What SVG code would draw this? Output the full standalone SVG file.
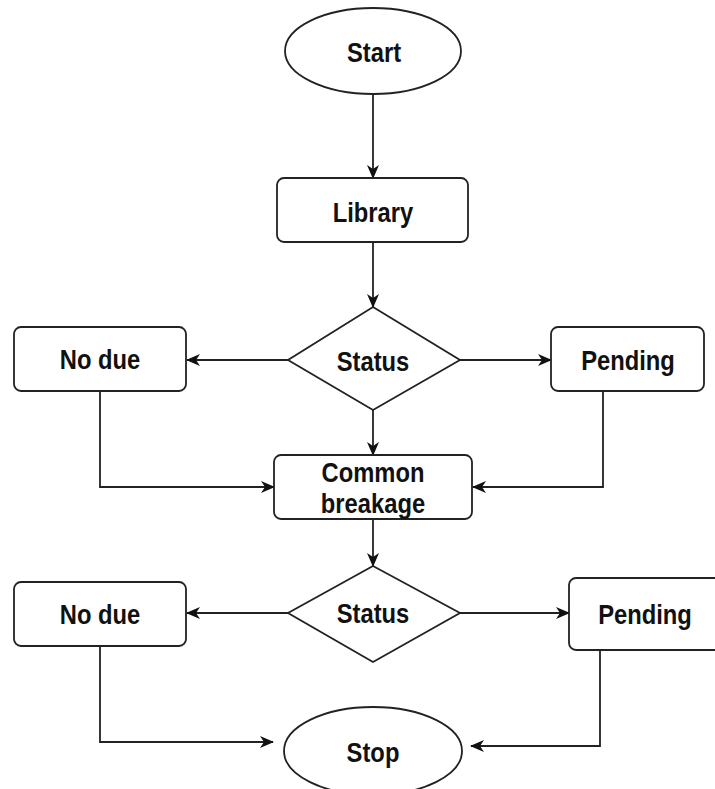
<svg xmlns="http://www.w3.org/2000/svg" width="715" height="789" viewBox="0 0 715 789">
<style>
.n{fill:#fff;stroke:#222;stroke-width:1.8}
.t{font-family:"Liberation Sans",Arial,sans-serif;font-weight:bold;font-size:27px;fill:#111;text-anchor:middle;dominant-baseline:central}
.c{fill:none;stroke:#222;stroke-width:1.8}
</style>
<defs>
<marker id="a" viewBox="0 0 14 12" refX="13" refY="6" markerWidth="14" markerHeight="12" markerUnits="userSpaceOnUse" orient="auto">
<path d="M0,0 L14,6 L0,12 L4,6 Z" fill="#111"/>
</marker>
</defs>
<rect width="715" height="789" fill="#fff"/>
<g id="connectors">
<path class="c" d="M373,95 V178" marker-end="url(#a)"/>
<path class="c" d="M373,242 V307" marker-end="url(#a)"/>
<path class="c" d="M288,360 H187" marker-end="url(#a)"/>
<path class="c" d="M460,360 H551" marker-end="url(#a)"/>
<path class="c" d="M373,410 V455" marker-end="url(#a)"/>
<path class="c" d="M100,391 V487 H274" marker-end="url(#a)"/>
<path class="c" d="M603,391 V487 H473" marker-end="url(#a)"/>
<path class="c" d="M373,519 V566" marker-end="url(#a)"/>
<path class="c" d="M288,613 H187" marker-end="url(#a)"/>
<path class="c" d="M460,613 H569" marker-end="url(#a)"/>
<path class="c" d="M100,646 V742 H273" marker-end="url(#a)"/>
<path class="c" d="M600,650 V746 H471" marker-end="url(#a)"/>
</g>
<g id="start"><ellipse class="n" cx="373" cy="51" rx="88" ry="43"/><text class="t" transform="translate(374,52) scale(0.88,1)">Start</text></g>
<g id="library"><rect class="n" x="277" y="178" width="191" height="64" rx="7"/><text class="t" transform="translate(373,212) scale(0.88,1)">Library</text></g>
<g id="status1"><polygon class="n" points="373,307 460,360 373,410 288,360"/><text class="t" transform="translate(373,361) scale(0.88,1)">Status</text></g>
<g id="nodue1"><rect class="n" x="14" y="327" width="172" height="64" rx="7"/><text class="t" transform="translate(100,359) scale(0.88,1)">No due</text></g>
<g id="pending1"><rect class="n" x="551" y="327" width="153" height="64" rx="7"/><text class="t" transform="translate(628,360) scale(0.88,1)">Pending</text></g>
<g id="common"><rect class="n" x="274" y="455" width="198" height="64" rx="7"/><text class="t" transform="translate(373,472) scale(0.88,1)">Common</text><text class="t" transform="translate(373,503) scale(0.88,1)">breakage</text></g>
<g id="status2"><polygon class="n" points="373,566 460,613 373,662 288,613"/><text class="t" transform="translate(373,613) scale(0.88,1)">Status</text></g>
<g id="nodue2"><rect class="n" x="14" y="582" width="172" height="64" rx="7"/><text class="t" transform="translate(100,614) scale(0.88,1)">No due</text></g>
<g id="pending2"><rect class="n" x="569" y="578" width="160" height="72" rx="7"/><text class="t" transform="translate(645,614) scale(0.88,1)">Pending</text></g>
<g id="stop"><ellipse class="n" cx="373" cy="751" rx="89" ry="44"/><text class="t" transform="translate(373,752) scale(0.88,1)">Stop</text></g>
</svg>
